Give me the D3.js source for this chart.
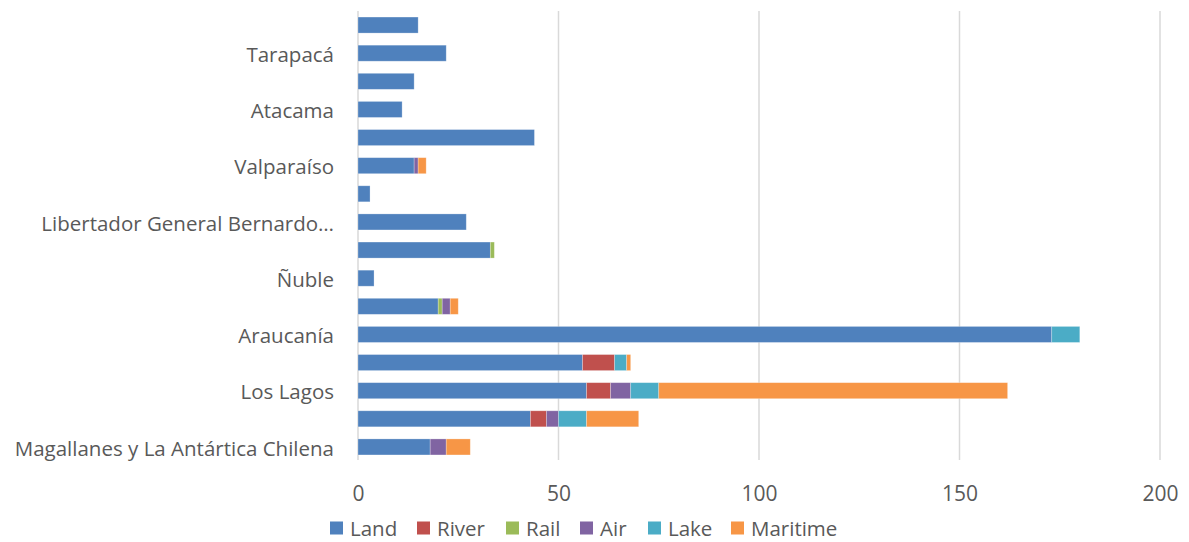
<!DOCTYPE html>
<html><head><meta charset="utf-8">
<script src="https://cdn.jsdelivr.net/npm/d3@7"></script>
<style>
body{margin:0;background:#fff;}
svg{display:block;}
text{font-family:"Open Sans","Noto Sans",sans-serif;fill:#595959;}
</style></head>
<body><svg id="c" width="1189" height="542"></svg>
<script>
const regions = ["Arica y Parinacota","Tarapacá","Antofagasta","Atacama","Coquimbo","Valparaíso ","Metropolitana","Libertador General Bernardo O'Higgins","Maule","Ñuble","Biobío","Araucanía","Los Ríos","Los Lagos","Aysén","Magallanes y La Antártica Chilena"];
const seriesNames = ["Land","River","Rail","Air","Lake","Maritime"];
const land     = [15,22,14,11,44,14,3,27,33,4,20,173,56,57,43,18];
const river    = [0,0,0,0,0,0,0,0,0,0,0,0,8,6,4,0];
const rail     = [0,0,0,0,0,0,0,0,1,0,1,0,0,0,0,0];
const air      = [0,0,0,0,0,1,0,0,0,0,2,0,0,5,3,4];
const lake     = [0,0,0,0,0,0,0,0,0,0,0,7,3,7,7,0];
const maritime = [0,0,0,0,0,2,0,0,0,0,2,0,1,87,13,6];
const xTicks = [0,50,100,150,200];
const colors = ["#4F81BD","#C0504D","#9BBB59","#8064A2","#4BACC6","#F79646"];

const seriesVals = [land,river,rail,air,lake,maritime];
const rows = regions.map((r,i)=>{const o={region:r};seriesNames.forEach((s,j)=>o[s]=seriesVals[j][i]);return o;});
const stack = d3.stack().keys(seriesNames)(rows);

const svg = d3.select("#c");
const x = d3.scaleLinear().domain([0,200]).range([358,1160]);
const y = d3.scaleBand().domain(regions).range([11,461]).paddingInner(0.43).paddingOuter(0.215);

// gridlines
svg.append("g").selectAll("line").data(xTicks).join("line")
  .attr("x1",d=>x(d)).attr("x2",d=>x(d)).attr("y1",11).attr("y2",460)
  .attr("stroke","#d9d9d9").attr("stroke-width",1.5);

// bars
svg.append("g").selectAll("g").data(stack).join("g")
  .attr("fill",(d,i)=>colors[i])
  .selectAll("rect").data(d=>d.filter(p=>p[1]-p[0]>0)).join("rect")
  .attr("x",d=>x(d[0])).attr("width",d=>x(d[1])-x(d[0]))
  .attr("y",d=>y(d.data.region)).attr("height",y.bandwidth())
  .attr("stroke","#ffffff").attr("stroke-opacity",0.35).attr("stroke-width",0.75);

// x axis labels
const xa = svg.append("g").attr("transform","translate(0,460)")
  .call(d3.axisBottom(x).tickValues(xTicks).tickSize(0).tickPadding(0).tickFormat(d3.format("d")));
xa.select(".domain").remove();
xa.selectAll("text").attr("y",41).attr("dy",null).attr("font-size",21)
  .style("font-family","'Open Sans',sans-serif").attr("fill","#595959");

// y axis labels (every other)
const ya = svg.append("g").attr("transform","translate(358,0)")
  .call(d3.axisLeft(y).tickSize(0).tickPadding(24)
    .tickFormat((d,i)=> i%2===1 ? (d.length>34 ? "Libertador General Bernardo…" : d) : ""));
ya.select(".domain").remove();
ya.selectAll("text").attr("font-size",20.5).attr("dy","0.42em")
  .style("font-family","'Open Sans',sans-serif").attr("fill","#595959");

// legend
const legX = [330,417,506,580,648,731];
const lg = svg.append("g").selectAll("g").data(seriesNames).join("g")
  .attr("transform",(d,i)=>`translate(${legX[i]},521.5)`);
lg.append("rect").attr("width",13).attr("height",13).attr("fill",(d,i)=>colors[i]);
lg.append("text").attr("x",20).attr("y",14.5).attr("font-size",20.5).text(d=>d);
</script></body></html>
